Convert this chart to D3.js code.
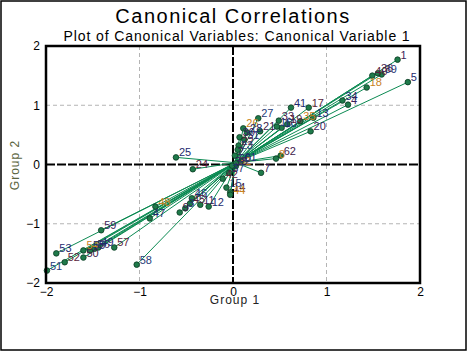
<!DOCTYPE html>
<html>
<head>
<meta charset="utf-8">
<script src="https://cdn.jsdelivr.net/npm/d3@7"></script>
<style>
  body { margin: 0; background: #fff; }
  svg { display: block; font-family: Arial, "Liberation Sans", sans-serif; }
</style>
</head>
<body>
<svg></svg>
<script>
// case labels and canonical scores
let ids = [1, 5, 40, 39, 36, 18, 34, 4, 41, 17, 27, 33, 35, 13, 20, 10, 19, 16, 21, 26,
  28, 30, 31, 22, 23, 62, 8, 61, 7, 25, 24, 15, 14, 44, 12, 11, 46, 45, 3, 9,
  48, 47, 59, 53, 52, 51, 50, 54, 55, 56, 49, 57, 58, 2, 32, 60, 38, 37, 42]
let group1 = [1.76, 1.87, 1.49, 1.59, 1.55, 1.43, 1.17, 1.23, 0.62, 0.81, 0.27, 0.49, 0.72, 0.86, 0.83, 0.52, 0.58, 0.47, 0.29, 0.11,
  0.15, 0.07, 0.12, 0.06, 0.05, 0.51, 0.46, 0.09, 0.30, -0.61, -0.43, -0.07, -0.03, -0.03, -0.26, -0.35, -0.44, -0.46, -0.51, -0.57,
  -0.83, -0.89, -1.41, -1.89, -1.80, -1.99, -1.60, -1.60, -1.53, -1.48, -1.44, -1.27, -1.03, 0.02, 0.03, 0.03, -0.01, -0.04, -0.11]
let group2 = [1.77, 1.39, 1.50, 1.52, 1.54, 1.30, 1.08, 1.01, 0.96, 0.96, 0.78, 0.74, 0.73, 0.79, 0.56, 0.62, 0.68, 0.64, 0.56, 0.61,
  0.54, 0.46, 0.42, 0.32, 0.25, 0.15, 0.10, 0.05, -0.14, 0.12, -0.08, -0.39, -0.47, -0.51, -0.71, -0.68, -0.57, -0.66, -0.74, -0.81,
  -0.71, -0.91, -1.11, -1.50, -1.65, -1.79, -1.57, -1.45, -1.45, -1.42, -1.40, -1.40, -1.69, 0.15, -0.03, 0.02, -0.02, -0.14, -0.24]
let centre = [0.03, 0.03]
let ticks = [-2, -1, 0, 1, 2]
let labelColors = ['#3c1e5a', '#1e2a6e', '#5a1e3c', '#283c78', '#40204a', '#c8821e', '#1e2a6e']

let width = 468
let height = 352
let padL = 46, padR = 420, padT = 46, padB = 283

let svg = d3.select('svg').attr('width', width).attr('height', height)

svg.append('rect').attr('x', 1).attr('y', 1).attr('width', 465).attr('height', 349)
  .attr('fill', '#fff').attr('stroke', '#000').attr('stroke-width', 1.5)

let xscale = d3.scaleLinear().domain([-2, 2]).range([padL, padR])
let yscale = d3.scaleLinear().domain([-2, 2]).range([padB, padT])

// titles
svg.append('text').attr('x', 233).attr('y', 23).attr('text-anchor', 'middle')
  .attr('font-size', 20).attr('letter-spacing', 1.5).attr('fill', '#000').text('Canonical Correlations')
svg.append('text').attr('x', 237).attr('y', 41).attr('text-anchor', 'middle')
  .attr('font-size', 14).attr('letter-spacing', 0.9).attr('fill', '#000').text('Plot of Canonical Variables: Canonical Variable 1')

// grid
let inner = ticks.filter(t => t != 0 && Math.abs(t) != 2)
svg.selectAll('.gx').data(inner).enter().append('line')
  .attr('x1', d => xscale(d)).attr('x2', d => xscale(d)).attr('y1', padT).attr('y2', padB)
  .attr('stroke', '#b4b4b4').attr('stroke-dasharray', '4,3')
svg.selectAll('.gy').data(inner).enter().append('line')
  .attr('y1', d => yscale(d)).attr('y2', d => yscale(d)).attr('x1', padL).attr('x2', padR)
  .attr('stroke', '#b4b4b4').attr('stroke-dasharray', '4,3')

// zero lines
svg.append('line').attr('x1', xscale(0)).attr('x2', xscale(0)).attr('y1', padT).attr('y2', padB)
  .attr('stroke', '#000').attr('stroke-width', 2).attr('stroke-dasharray', '9,2')
svg.append('line').attr('y1', yscale(0)).attr('y2', yscale(0)).attr('x1', padL).attr('x2', padR)
  .attr('stroke', '#000').attr('stroke-width', 2).attr('stroke-dasharray', '9,2')

// axes
let xAxis = d3.axisBottom(xscale).tickValues(ticks).tickSize(0).tickPadding(4).tickFormat(d3.format('d'))
let yAxis = d3.axisLeft(yscale).tickValues(ticks).tickSize(0).tickPadding(6).tickFormat(d3.format('d'))
let gx = svg.append('g').attr('transform', 'translate(0,' + padB + ')').call(xAxis)
let gy = svg.append('g').attr('transform', 'translate(' + padL + ',0)').call(yAxis)
;[gx, gy].forEach(g => {
  g.select('.domain').remove()
  g.selectAll('text').attr('font-size', 12).attr('fill', '#000').attr('font-family', 'Arial, sans-serif')
})

svg.append('text').attr('x', 235).attr('y', 304).attr('text-anchor', 'middle')
  .attr('font-size', 12).attr('letter-spacing', 1).attr('fill', '#222').text('Group 1')
svg.append('text').attr('transform', 'translate(19,165) rotate(-90)').attr('text-anchor', 'middle')
  .attr('font-size', 12).attr('letter-spacing', 1).attr('fill', '#5a6440').text('Group 2')

// rays from centre
let points = ids.map((id, i) => ({ id: id, x: group1[i], y: group2[i], i: i }))
let plot = svg.append('g')
plot.selectAll('.ray').data(points).enter().append('line')
  .attr('x1', xscale(centre[0])).attr('y1', yscale(centre[1]))
  .attr('x2', d => xscale(d.x)).attr('y2', d => yscale(d.y))
  .attr('stroke', '#0b8a52').attr('stroke-width', 1)

plot.selectAll('.dot').data(points).enter().append('circle')
  .attr('cx', d => xscale(d.x)).attr('cy', d => yscale(d.y)).attr('r', 2.8)
  .attr('fill', '#1f7a4a').attr('stroke', '#0a3a22').attr('stroke-width', 0.8)

plot.selectAll('.lab').data(points).enter().append('text')
  .attr('x', d => xscale(d.x) + 3).attr('y', d => yscale(d.y) - 1)
  .attr('font-size', 11).attr('fill', d => labelColors[d.i % labelColors.length])
  .text(d => d.id)

// plot frame
svg.append('rect').attr('x', padL).attr('y', padT).attr('width', padR - padL).attr('height', padB - padT)
  .attr('fill', 'none').attr('stroke', '#000').attr('stroke-width', 2.5)
</script>
</body>
</html>
